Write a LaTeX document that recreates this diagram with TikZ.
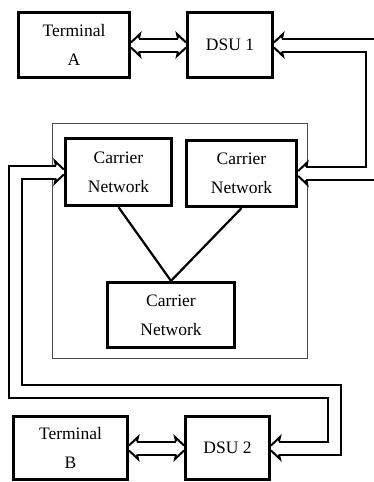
\documentclass[tikz,border=0pt]{standalone}
\usepackage{fontspec}
\setmainfont{Liberation Serif}
\begin{document}
\begin{tikzpicture}[x=1pt,y=-1pt,
  box/.style={draw, line width=2.9pt, rectangle, inner sep=0pt, align=center,
              font=\fontsize{17.5}{29}\selectfont},
  cnbox/.style={box, line width=3.3pt},
  frame/.style={draw=black!70, line width=0.9pt, rectangle, inner sep=0pt},
  dbl/.style={double, double distance=11pt, line width=2pt, line join=miter,
              shorten <=8pt, shorten >=8pt},
  link/.style={line width=2.2pt},
  hd/.pic={
    \draw[line width=2pt, line join=miter] (-8,-6.5) -- (-9,-11) -- (0,-2.5);
    \draw[line width=2pt, line join=miter] (-8,6.5) -- (-9,11) -- (0,2.5);
  }
]
\useasboundingbox (0,0) rectangle (374,482);
\clip (0,0) rectangle (374,482);

% grouping frame
\node[frame, minimum width=255pt, minimum height=235pt] (net) at (179.5,240.5) {};

% boxes
\node[box, minimum width=111pt, minimum height=65pt] (ta) at (74,45) {Terminal\\A};
\node[box, minimum width=85pt, minimum height=65pt] (dsu1) at (230,45) {DSU 1};
\node[cnbox, minimum width=106pt, minimum height=67pt] (cn1) at (118.5,172) {Carrier\\Network};
\node[cnbox, minimum width=110pt, minimum height=66pt] (cn2) at (241.5,173.5) {Carrier\\Network};
\node[cnbox, minimum width=127pt, minimum height=65pt] (cn3) at (171,315) {Carrier\\Network};
\node[box, minimum width=114pt, minimum height=63pt] (tb) at (70.5,448) {Terminal\\B};
\node[box, minimum width=84pt, minimum height=63pt] (dsu2) at (227.5,448) {DSU 2};

% links inside carrier network group
\draw[link] (cn1.south) -- (cn3.north);
\draw[link] (cn2.south) -- (cn3.north);

% route coordinates
\coordinate (r1) at (372,46);
\coordinate (l1) at (15.5,391.5);
\coordinate (r2) at (334,391.5);

% Terminal A <-> DSU 1
\draw[dbl] (ta.east) -- (dsu1.west);
\pic[rotate=180] at (ta.east) {hd};
\pic at (dsu1.west) {hd};

% DSU 1 <-> Carrier Network (right)
\draw[dbl] (dsu1.east) -- (dsu1.east -| r1) -- (cn2.east -| r1) -- (cn2.east);
\pic[rotate=180] at (dsu1.east) {hd};
\pic[rotate=180] at (cn2.east) {hd};

% Carrier Network (left) <-> DSU 2
\draw[dbl] (cn1.west) -- (cn1.west -| l1) -- (l1) -- (r2) -- (dsu2.east -| r2) -- (dsu2.east);
\pic at (cn1.west) {hd};
\pic[rotate=180] at (dsu2.east) {hd};

% Terminal B <-> DSU 2
\draw[dbl] (tb.east) -- (dsu2.west);
\pic[rotate=180] at (tb.east) {hd};
\pic at (dsu2.west) {hd};
\end{tikzpicture}
\end{document}
